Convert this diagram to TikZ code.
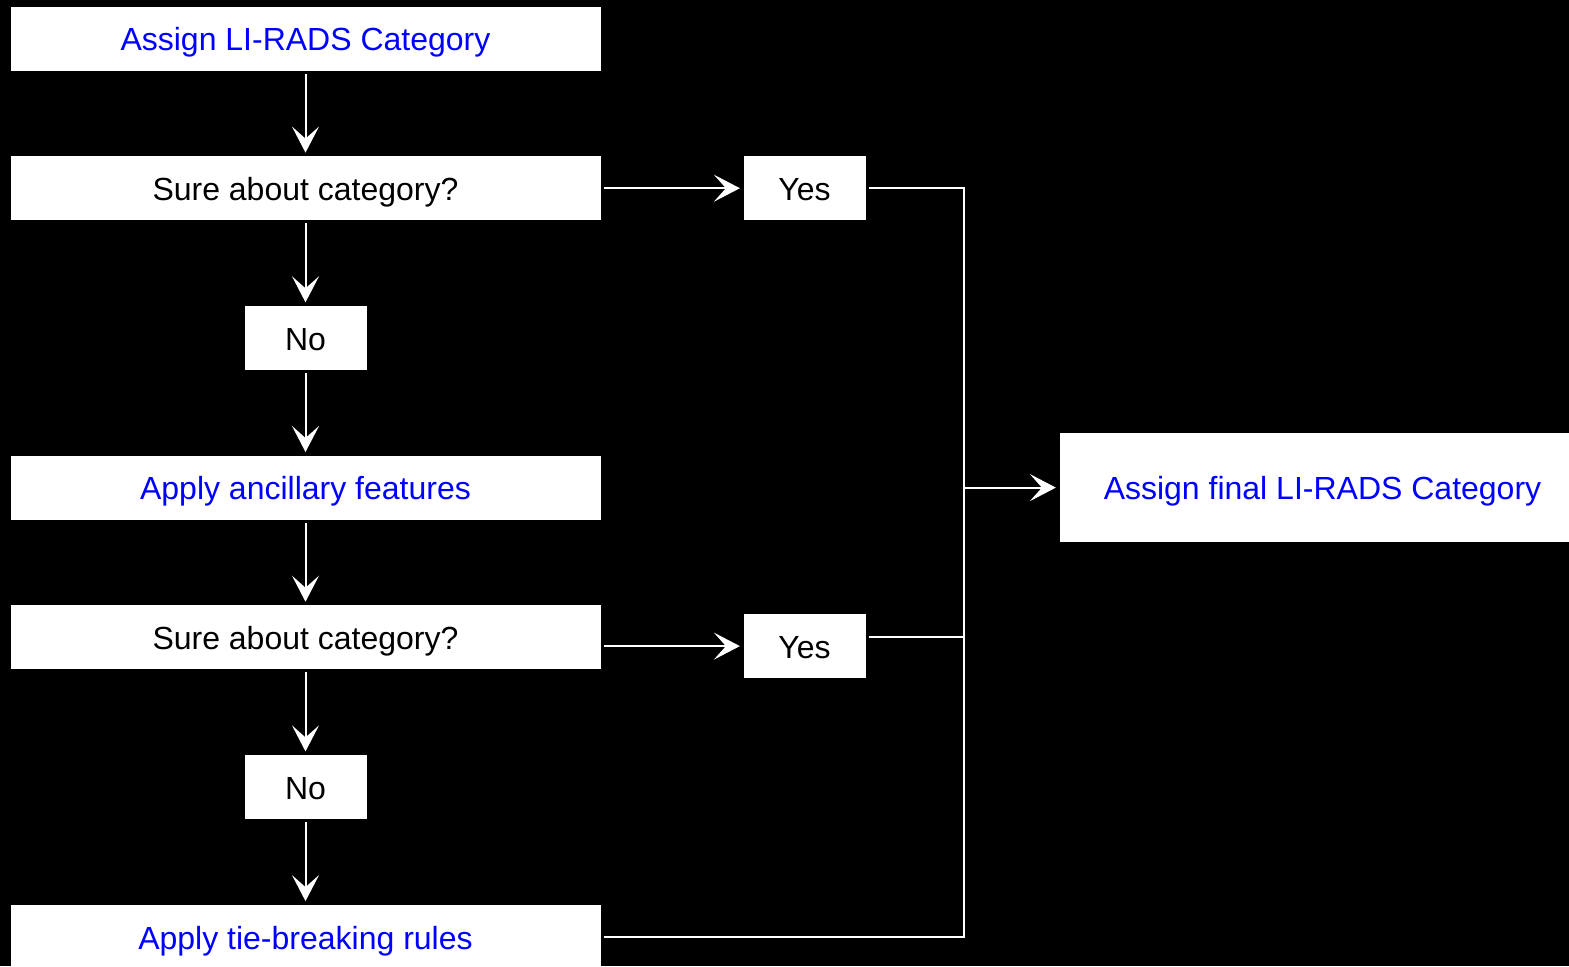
\documentclass[tikz,border=0pt]{standalone}
\usepackage{fontspec}
\setmainfont{Liberation Sans}
\usepackage[dvipsnames]{xcolor}
\usetikzlibrary{positioning,arrows.meta}

\begin{document}
\begin{tikzpicture}[-,>={Stealth[length=13pt,width=13.5pt,inset=6pt]},shorten >=1.3pt,shorten <=1pt,auto,node distance=74.85pt,line width=1pt,white,
    main node/.style={rectangle,fill=white,draw=none,minimum width=295pt,minimum height=32pt,inner sep=0pt,text height=14pt,text depth=1.7pt,font=\fontsize{16}{19}\selectfont},
    small node/.style={main node,minimum width=61pt}]

                \fill[black] (0,0) rectangle (784.5pt,-483pt);
                \useasboundingbox (0,0) rectangle (784.5pt,-483pt);

                \node[main node, text=blue] (1) at (152.75pt,-19.25pt) {Assign LI-RADS Category};
                \node[main node, text=black] (2) [below of = 1]{Sure about category?};
                \node[small node, text=black] (3) [below of = 2]{No};
                \node[main node, text=blue] (4) [below of = 3]{Apply ancillary features};
                \node[main node, text=black] (5) [below of = 4]{Sure about category?};
                \node[small node, text=black] (6) [below of = 5]{No};
                \node[main node, text=blue] (7) [below of = 6]{Apply tie-breaking rules};
                \node[small node, text=black] (8) [right of = 2, node distance=249.5pt]{Yes};
                \node[small node, text=black] (9) [right of = 5, node distance=249.5pt, yshift=-4.4pt]{Yes};
                \node[main node, text=blue, minimum width=263pt, minimum height=54.5pt] (10) [right of = 4, node distance=508.5pt]{Assign final LI-RADS Category};
                \coordinate[left=47.5pt of 10.west] (m);

                \draw[->] (1) to (2);
                \draw[->] (2) to (3);
                \draw[->] (3) to (4);
                \draw[->] (4) to (5);
                \draw[->] (5) to (6);
                \draw[->] (6) to (7);
                \draw[->] (2) to (8);
                \draw[->] (5.east |- 9) to (9);
                \draw[shorten >=0pt] (8) -| (m);
                \draw[shorten >=0pt] (9.east |- 5.east) -| (m);
                \draw[shorten >=0pt] (7) -| (m);
                \draw[->, shorten <=0pt] (m) to (10);

                ;
            \end{tikzpicture}
\end{document}
